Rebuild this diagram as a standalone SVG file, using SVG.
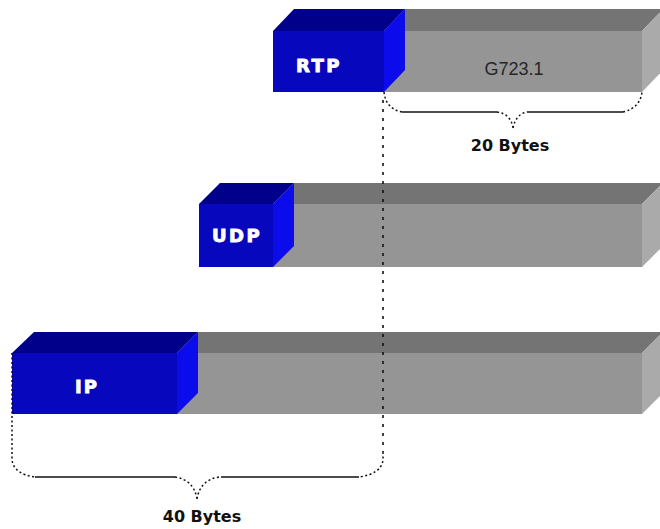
<svg xmlns="http://www.w3.org/2000/svg" width="660" height="529" viewBox="0 0 660 529">
<defs>
<style>
.gtop{fill:#747474}
.gfront{fill:#959595}
.gside{fill:#aaaaaa}
.btop{fill:#00008a}
.bfront{fill:#0707bd}
.bside{fill:#0b0bec}
.lbl{font-family:"DejaVu Sans","Liberation Sans",sans-serif;font-weight:bold;font-size:18px;fill:#ffffff;stroke:#ffffff;stroke-width:0.9}
.pay{font-family:"Liberation Sans",Arial,sans-serif;font-size:18px;fill:#262626}
.sz{font-family:"DejaVu Sans","Liberation Sans",sans-serif;font-weight:bold;font-size:16px;fill:#111111}
.solid{fill:none;stroke:#111;stroke-width:1.6}
.dot{fill:none;stroke:#111;stroke-width:1.5;stroke-dasharray:2 2.5}
.vdot{fill:none;stroke:#111;stroke-width:1.6;stroke-dasharray:3 6}
</style>
</defs>
<rect width="660" height="529" fill="#ffffff"/>

<g id="rtp">
<polygon class="gtop" points="384,31 405,9 663,9 642,31"/>
<rect class="gfront" x="384" y="31" width="258" height="61"/>
<polygon class="gside" points="642,31 663,9 663,70 642,92"/>
<polygon class="btop" points="273,31 294,9 405,9 384,31"/>
<rect class="bfront" x="273" y="31" width="111" height="61"/>
<polygon class="bside" points="384,31 405,9 405,70 384,92"/>
<text class="lbl" x="296" y="72" letter-spacing="2.5">RTP</text>
<text class="pay" x="514" y="75" text-anchor="middle">G723.1</text>
</g>

<g id="udp">
<polygon class="gtop" points="273,204 294,183 663,183 642,204"/>
<rect class="gfront" x="273" y="204" width="369" height="63"/>
<polygon class="gside" points="642,204 663,183 663,246 642,267"/>
<polygon class="btop" points="199,204 220,183 294,183 273,204"/>
<rect class="bfront" x="199" y="204" width="74" height="63"/>
<polygon class="bside" points="273,204 294,183 294,246 273,267"/>
<text class="lbl" x="212" y="242" letter-spacing="2.5">UDP</text>
</g>

<g id="ip">
<polygon class="gtop" points="177,353 198,332 663,332 642,353"/>
<rect class="gfront" x="177" y="353" width="465" height="61"/>
<polygon class="gside" points="642,353 663,332 663,393 642,414"/>
<polygon class="btop" points="12,353 34,332 198,332 177,353"/>
<rect class="bfront" x="12" y="353" width="165" height="61"/>
<polygon class="bside" points="177,353 198,332 198,393 177,414"/>
<text class="lbl" x="75" y="393" letter-spacing="2" font-size="19">IP</text>
</g>

<g id="connectors">
<path class="dot" d="M384,92 Q386,109 402,112"/>
<path class="solid" d="M402,112 H497"/>
<path class="dot" d="M497,112 Q511,114 513,128 M513,128 Q516,114 527,112"/>
<path class="solid" d="M527,112 H623"/>
<path class="dot" d="M623,112 Q640,108 642,92"/>
<path class="vdot" d="M383,100 V452"/>
<path class="dot" d="M383,452 V460 Q381,474 359,477"/>
<path class="dot" d="M12,353 V460 Q14,474 35,477"/>
<path class="solid" d="M35,477 H175"/>
<path class="dot" d="M175,477 Q194,480 197,499 M197,499 Q200,480 219,477"/>
<path class="solid" d="M221,477 H359"/>
</g>

<g id="sizes">
<text class="sz" x="510" y="151" text-anchor="middle">20 Bytes</text>
<text class="sz" x="202" y="522" text-anchor="middle">40 Bytes</text>
</g>
</svg>
